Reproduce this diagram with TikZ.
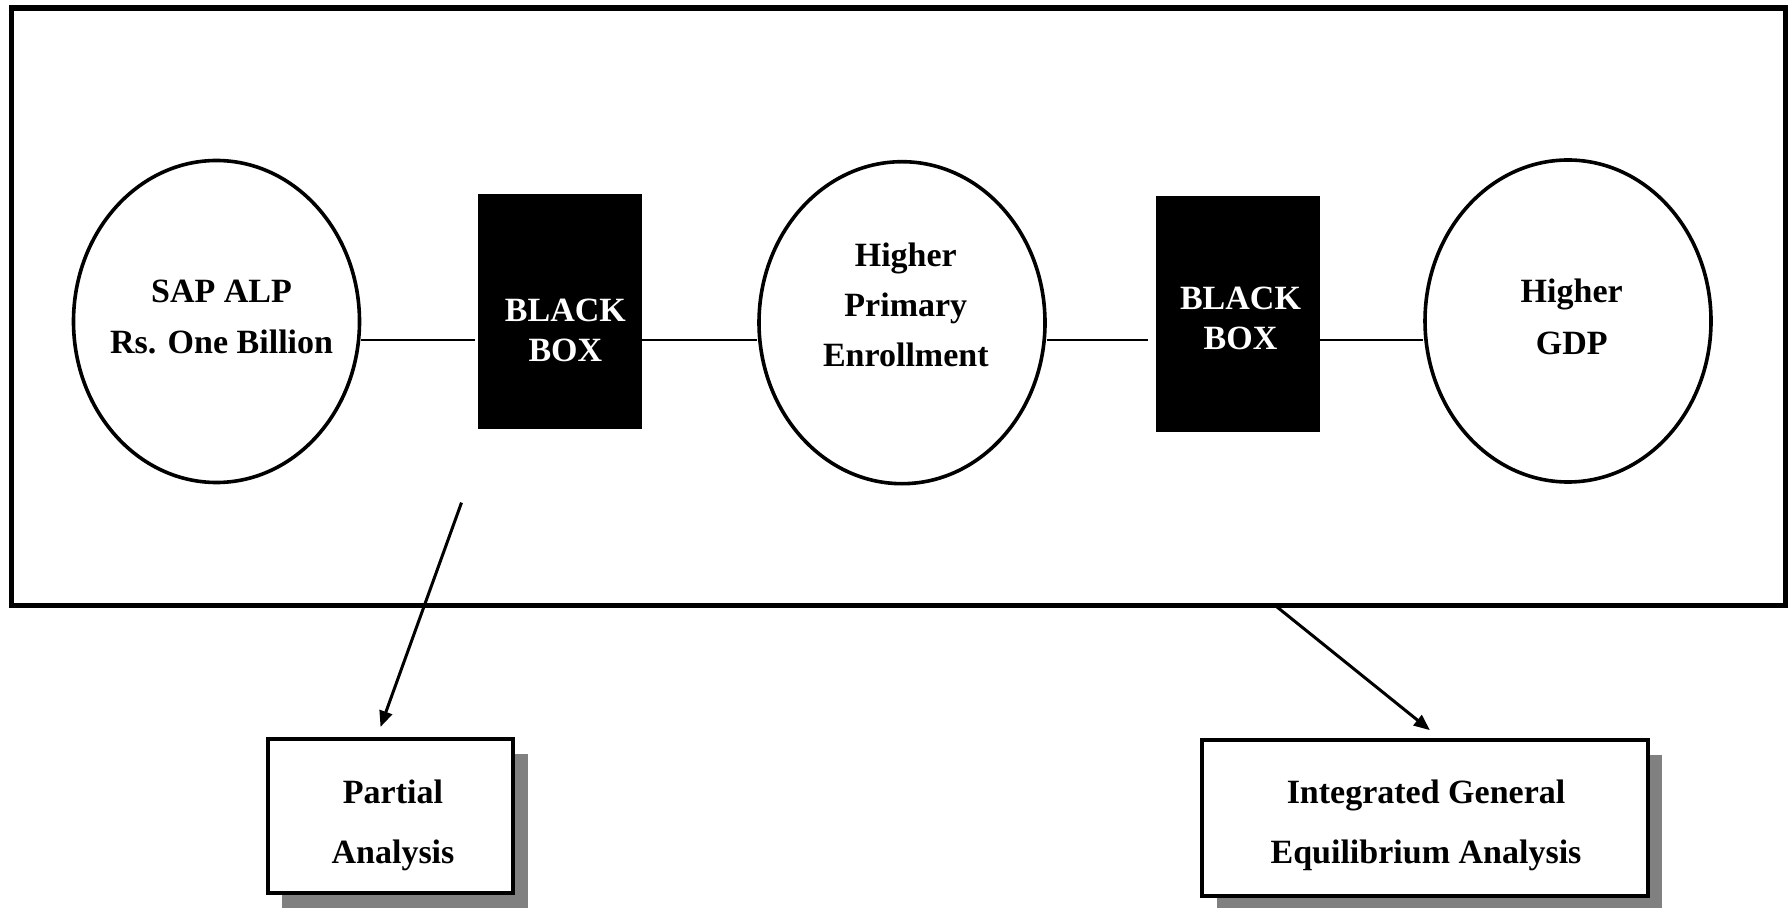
\documentclass[tikz,border=0pt]{standalone}
\usepackage{fontspec}
\setmainfont{Liberation Serif}
\usetikzlibrary{arrows.meta,shadows,shapes.geometric,calc}
\begin{document}
\begin{tikzpicture}[x=0.5pt,y=-0.5pt,
  oval/.style={ellipse, draw, line width=1.8pt, minimum width=143pt, minimum height=161pt, inner sep=0pt},
  blackbox/.style={rectangle, fill=black, minimum width=82pt, minimum height=117.6pt, inner sep=0pt},
  resultbox/.style={rectangle, draw, line width=2pt, fill=white, inner sep=0pt,
    drop shadow={shadow xshift=7.25pt, shadow yshift=-7.5pt, fill=gray, opacity=1}},
  lbl/.style={align=center, inner sep=0pt},
  fa/.style={font=\bfseries\fontsize{17}{25.6}\selectfont},
  fb/.style={font=\bfseries\fontsize{17}{20.3}\selectfont},
  fc/.style={font=\bfseries\fontsize{17}{25}\selectfont},
  fd/.style={font=\bfseries\fontsize{17}{30}\selectfont},
  link/.style={line width=0.9pt},
  arr/.style={line width=1.5pt, -{Triangle[length=8pt,width=6.5pt]}}
]
\useasboundingbox (0,0) rectangle (1791,908);
\fill[white] (0,0) rectangle (1791,908);

\node[draw, line width=2.8pt, minimum width=886.95pt, minimum height=298.7pt, inner sep=0pt] (frame) at (898.35,306.7) {};

\node[oval] (e1) at (216.5,321.5) {};
\node[oval] (e2) at (902,322.7) {};
\node[oval] (e3) at (1568,321) {};

\node[blackbox] (b1) at (559.7,311.9) {};
\node[blackbox] (b2) at (1237.5,314.1) {};

\node[lbl,fa] (t1) at (221.6,316.9) {SAP ALP\\Rs. One Billion};
\node[lbl,fb,text=white] (t2) at (565.4,330.5) {BLACK\\BOX};
\node[lbl,fc] (t3) at (905.8,305.3) {Higher\\Primary\\Enrollment};
\node[lbl,fb,text=white] (t4) at (1240.5,318.5) {BLACK\\BOX};
\node[lbl,fa] (t5) at (1571.7,316.9) {Higher\\GDP};

\coordinate (ly) at (0,340.4);
\draw[link] (e1.east |- ly) -- ($(b1.west |- ly)+(-2,0)$);
\draw[link] (b1.east |- ly) -- (e2.west |- ly);
\draw[link] (e2.east |- ly) -- ($(b2.west |- ly)+(-7,0)$);
\draw[link] (b2.east |- ly) -- (e3.west |- ly);

\node[resultbox, minimum width=122.75pt, minimum height=77pt] (pa) at (390.5,815.5) {};
\node[resultbox, minimum width=222.65pt, minimum height=78.2pt] (ige) at (1424.9,817.85) {};
\node[lbl,fd] (t6) at (393,825) {Partial\\Analysis};
\node[lbl,fd] (t7) at (1426,825) {Integrated General\\Equilibrium Analysis};

\coordinate (a1s) at (461.5,502.6);
\coordinate (a2s) at (1275.8,606);
\draw[arr] (a1s) -- ($(pa.north)+(-10,-9.5)$);
\draw[arr] (a2s) -- ($(ige.north)+(5,-7.5)$);
\end{tikzpicture}
\end{document}
